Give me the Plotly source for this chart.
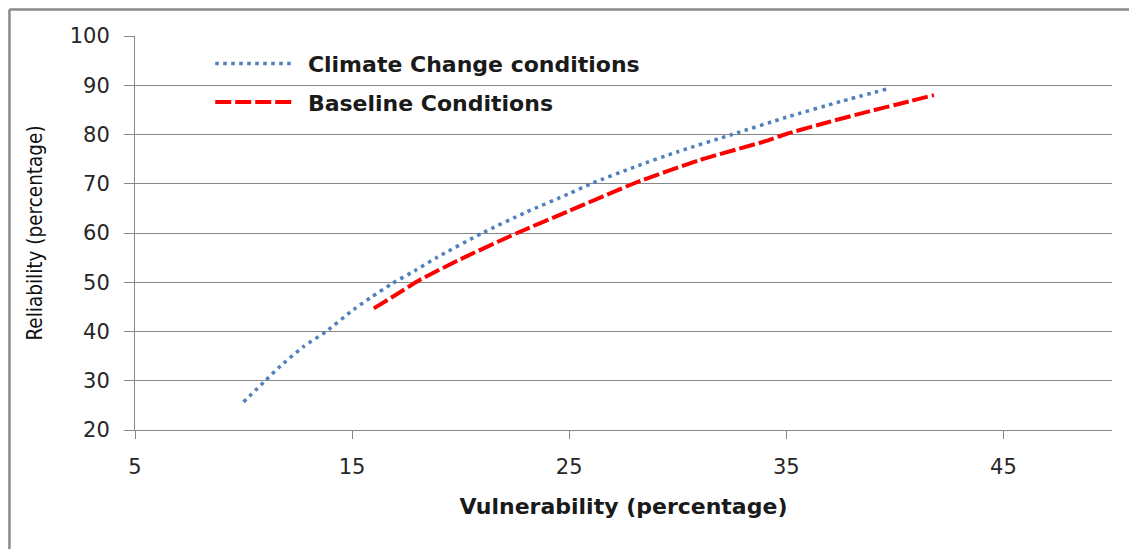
import plotly.graph_objects as go

# Climate Change conditions (vulnerability %, reliability %)
cc_x = [10, 11, 11.7, 12.74, 13.8, 15.08, 15.86, 16.87, 17.87, 18.93, 21, 23, 25, 26, 28, 30, 32.5, 35, 37.5, 39.6]
cc_y = [25.7, 30, 33.0, 36.85, 40, 44.5, 46.9, 49.8, 52.3, 55.1, 60, 64.2, 68, 70, 73.4, 76.5, 80, 83.5, 86.7, 89.2]

# Baseline Conditions
base_x = [16, 17, 18.13, 20, 22.6, 25, 28, 31, 34, 35, 37, 39, 40, 41.8]
base_y = [44.7, 47.4, 50.5, 54.7, 60, 64.5, 70.1, 74.8, 78.6, 80.1, 82.6, 84.9, 86.0, 88.0]

series_names = ["Climate Change conditions", "Baseline Conditions"]
x_ticks = [5, 15, 25, 35, 45]
y_ticks = [20, 30, 40, 50, 60, 70, 80, 90, 100]

GRID = "#868686"
TXT = "#1a1a1a"
PAD = "\u00a0"  # small gap between legend sample and label

fig = go.Figure()
fig.add_trace(go.Scatter(
    x=cc_x, y=cc_y, mode="lines", name=PAD + series_names[0],
    line=dict(color="#4F81BD", width=3.5, dash="3.5px,4.5px", shape="spline", smoothing=0.6),
    legendgroup="a",
))
fig.add_trace(go.Scatter(
    x=base_x, y=base_y, mode="lines", name=PAD + series_names[1],
    line=dict(color="#FF0000", width=4, dash="16px,4px", shape="spline", smoothing=0.6),
    legendgroup="b",
))

fig.update_layout(
    width=1137, height=549,
    margin=dict(l=127, r=33, t=28, b=127),
    paper_bgcolor="white", plot_bgcolor="white",
    font=dict(family="DejaVu Sans", color=TXT),
    showlegend=True,
    legend=dict(
        x=0.077, y=0.983, xanchor="left", yanchor="top",
        bgcolor="rgba(0,0,0,0)",
        font=dict(family="DejaVu Sans", size=22, color=TXT, weight="bold"),
        itemwidth=80, tracegroupgap=7, traceorder="grouped",
    ),
    xaxis=dict(
        range=[5, 50], tickmode="array", tickvals=x_ticks,
        showgrid=False, zeroline=False,
        showline=True, linecolor=GRID, linewidth=1,
        ticks="outside", ticklen=8, tickcolor=GRID,
        ticklabelstandoff=10,
        tickfont=dict(family="DejaVu Sans", size=21, color="#262626"),
        title=dict(text="Vulnerability (percentage)", standoff=20,
                   font=dict(family="DejaVu Sans", size=22, color=TXT, weight="bold")),
    ),
    yaxis=dict(
        range=[20, 100], tickmode="array", tickvals=y_ticks,
        showgrid=True, gridcolor=GRID, gridwidth=1, zeroline=False,
        showline=True, linecolor=GRID, linewidth=1,
        ticks="outside", ticklen=10, tickcolor=GRID,
        ticklabelstandoff=10,
        tickfont=dict(family="DejaVu Sans", size=21, color="#262626"),
        title=dict(text="Reliability (percentage)", standoff=21,
                   font=dict(family="Liberation Sans Narrow, DejaVu Sans Condensed, sans-serif", size=20.5, color="#111111")),
    ),
    shapes=[
        dict(type="line", xref="paper", yref="paper", x0=-0.1285, x1=1.1, y0=1.0673, y1=1.0673,
             line=dict(color="#8a8a8a", width=2.5)),
        dict(type="line", xref="paper", yref="paper", x0=-0.1285, x1=-0.1285, y0=-0.4, y1=1.0673,
             line=dict(color="#8a8a8a", width=2.5)),
    ],
)

fig.write_html("out.html")
